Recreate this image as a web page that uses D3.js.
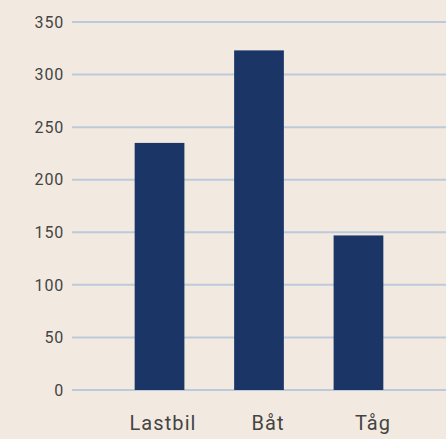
<!DOCTYPE html>
<html>
<head>
<meta charset="utf-8">
<script src="https://cdn.jsdelivr.net/npm/d3@7"></script>
<style>
  html, body { margin: 0; padding: 0; background: #f2eae0; }
  svg { display: block; }
</style>
</head>
<body>
<script>
const categories = ['Lastbil', 'Båt', 'Tåg'];
const values = [235, 323, 147];
const yTicks = [0, 50, 100, 150, 200, 250, 300, 350];

const svgWidth = 446;
const svgHeight = 439;

const svg = d3.select('body')
              .append('svg')
              .attr('width', svgWidth)
              .attr('height', svgHeight);

svg.append('rect')
   .attr('width', svgWidth)
   .attr('height', svgHeight)
   .attr('fill', '#f2eae0');

// Scales
const yScale = d3.scaleLinear()
                 .domain([0, 350])
                 .range([390, 22]);

const xScale = d3.scaleBand()
                 .domain(categories)
                 .range([72, 446])
                 .paddingInner(0.5)
                 .paddingOuter(0.63);

// labels sit a bit to the right of the bars in the original
const labelScale = d3.scalePoint()
                     .domain(categories)
                     .range([163, 373]);

// Grid lines
svg.append('g')
   .selectAll('line')
   .data(yTicks)
   .enter()
   .append('line')
   .attr('x1', 72)
   .attr('x2', svgWidth)
   .attr('y1', (d) => yScale(d))
   .attr('y2', (d) => yScale(d))
   .attr('stroke', '#bdcadb')
   .attr('stroke-width', 2);

// Y tick labels
svg.append('g')
   .selectAll('text')
   .data(yTicks)
   .enter()
   .append('text')
   .attr('x', 64)
   .attr('y', (d) => yScale(d))
   .attr('dy', '0.36em')
   .attr('text-anchor', 'end')
   .attr('font-family', 'Roboto, sans-serif')
   .attr('font-size', 16)
   .attr('letter-spacing', 0.8)
   .attr('fill', '#444')
   .text((d) => d);

// Bars
svg.append('g')
   .selectAll('rect')
   .data(values)
   .enter()
   .append('rect')
   .attr('x', (d, i) => xScale(categories[i]))
   .attr('y', (d) => yScale(d))
   .attr('width', xScale.bandwidth())
   .attr('height', (d) => yScale(0) - yScale(d))
   .attr('fill', '#1b3566');

// X labels
svg.append('g')
   .selectAll('text')
   .data(categories)
   .enter()
   .append('text')
   .attr('x', (d) => labelScale(d))
   .attr('y', 430)
   .attr('text-anchor', 'middle')
   .attr('font-family', 'Roboto, sans-serif')
   .attr('font-size', 20)
   .attr('letter-spacing', 1.1)
   .attr('fill', '#444')
   .text((d) => d);
</script>
</body>
</html>
